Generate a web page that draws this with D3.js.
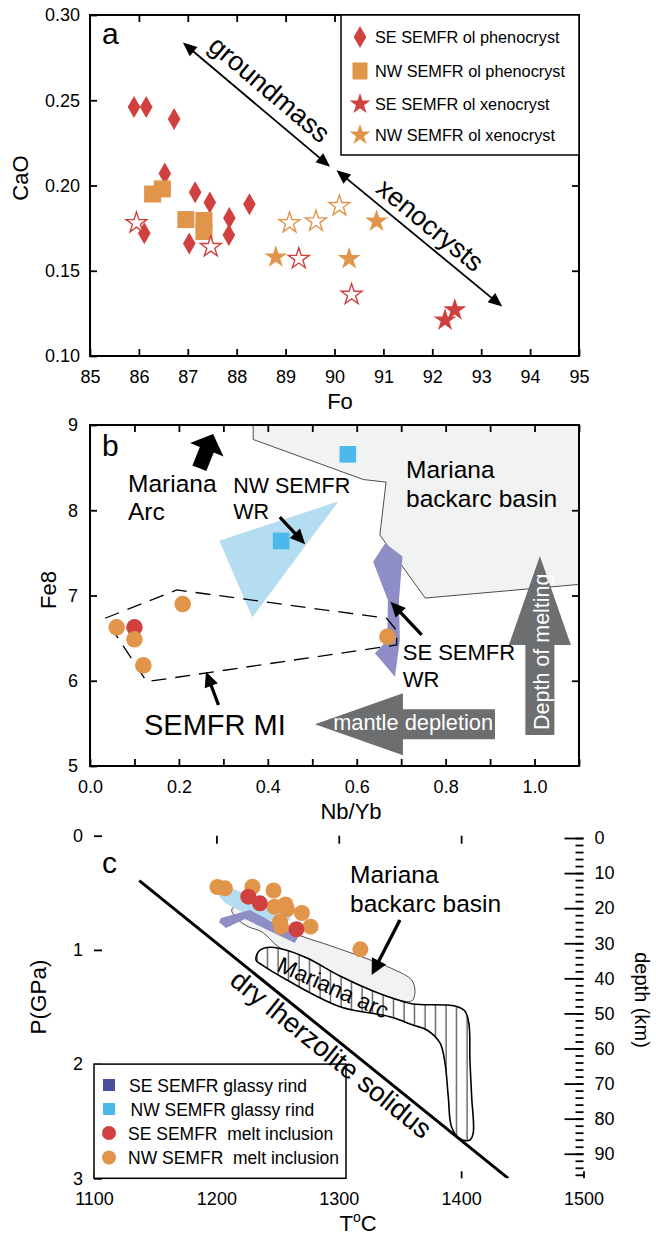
<!DOCTYPE html>
<html>
<head>
<meta charset="utf-8">
<script src="https://cdn.jsdelivr.net/npm/d3@7"></script>
<style>
  body { margin: 0; background: #fff; }
  svg { display: block; font-family: Helvetica, Arial, "Liberation Sans", sans-serif; }
</style>
</head>
<body>
<div id="chart"></div>
<script>
// ---------------- panel a : olivine CaO vs Fo ----------------
const foTicks = d3.range(85, 96);
const caoTicks = [0.10, 0.15, 0.20, 0.25, 0.30];

const sePhenoFo  = [85.9, 86.15, 86.72, 86.53, 87.15, 87.45, 88.26, 87.85, 87.84, 86.11, 87.03];
const sePhenoCaO = [0.246, 0.246, 0.239, 0.207, 0.196, 0.190, 0.189, 0.181, 0.171, 0.172, 0.166];
const nwPhenoFo  = [86.28, 86.48, 86.96, 87.33, 87.33];
const nwPhenoCaO = [0.195, 0.198, 0.180, 0.1795, 0.173];
const seXenoFo   = [92.26, 92.46];
const seXenoCaO  = [0.121, 0.127];
const nwXenoFo   = [88.8, 90.86, 90.3];
const nwXenoCaO  = [0.158, 0.179, 0.157];
// open stars (no legend entry)
const seOpenFo   = [85.95, 87.47, 89.27, 90.35];
const seOpenCaO  = [0.178, 0.164, 0.157, 0.136];
const nwOpenFo   = [89.08, 89.62, 90.1];
const nwOpenCaO  = [0.178, 0.179, 0.188];

// ---------------- panel b : Fe8 vs Nb/Yb ----------------
const nbybTicks = d3.range(0, 12).map(i => i / 10);
const fe8Ticks = [5, 6, 7, 8, 9];

const nwWrNbYb = [0.43, 0.58];
const nwWrFe8  = [7.64, 8.656];
const seMiNbYb = [0.10];
const seMiFe8  = [6.627];
const nwMiNbYb = [0.06, 0.10, 0.12, 0.2085, 0.669];
const nwMiFe8  = [6.627, 6.486, 6.18, 6.90, 6.517];

const backarcNbYb = [0.367, 0.367, 0.615, 0.666, 0.652, 0.754, 1.10, 1.10];
const backarcFe8  = [9.0, 8.83, 8.36, 8.33, 7.71, 6.97, 7.13, 9.0];
const nwFieldNbYb = [0.291, 0.365, 0.559];
const nwFieldFe8  = [7.643, 6.744, 8.105];
const seFieldNbYb = [0.664, 0.703, 0.695, 0.697, 0.686, 0.641, 0.669, 0.670, 0.637];
const seFieldFe8  = [7.612, 7.457, 6.947, 6.478, 6.047, 6.322, 6.478, 6.947, 7.396];
const miFieldNbYb = [0.034, 0.195, 0.6675, 0.69, 0.69, 0.637, 0.1275];
const miFieldFe8  = [6.733, 7.065, 6.733, 6.587, 6.42, 6.38, 5.989];

// ---------------- panel c : P-T ----------------
const tTicks = [1100, 1200, 1300, 1400, 1500];
const pTicks = [0, 1, 2, 3];
const depthTicks = d3.range(0, 100, 10);

const solidusT = [1137, 1438.5];
const solidusP = [0.394, 3.0];
const arcT = [1232.4, 1234.9, 1241.4, 1252.0, 1274.0, 1301.0, 1327.9, 1345.9, 1360.6, 1394.9, 1403.1, 1406.4, 1407.2, 1408.6,
              1409.9, 1407.2, 1399.0, 1392.2, 1389.5, 1386.8, 1382.7, 1372.0, 1360.6, 1341.8, 1301.0, 1257.7, 1237.3];
const arcP = [1.088, 1.010, 0.979, 0.988, 1.071, 1.229, 1.360, 1.430, 1.474, 1.491, 1.535, 1.649, 1.964, 2.285,
              2.603, 2.665, 2.656, 2.551, 2.285, 1.990, 1.815, 1.701, 1.658, 1.585, 1.497, 1.264, 1.132];
const bbT = [1212.5, 1216.6, 1223.4, 1239.7, 1264.2, 1291.4, 1318.7, 1345.9, 1359.6, 1362.3, 1359.6,
             1345.9, 1327.9, 1301.0, 1274.0, 1252.0, 1237.3, 1226.1, 1217.9];
const bbP = [0.651, 0.607, 0.592, 0.694, 0.855, 0.957, 1.060, 1.176, 1.264, 1.366, 1.447,
             1.430, 1.360, 1.229, 1.071, 0.983, 0.843, 0.797, 0.738];
const nwRindT = [1199.5, 1222.0, 1247.0, 1261.0, 1257.0, 1237.0, 1221.0, 1207.0, 1198.5];
const nwRindP = [0.425, 0.495, 0.640, 0.720, 0.775, 0.718, 0.665, 0.590, 0.480];
const seRindT = [1202.1, 1207.8, 1223.4, 1264.2, 1267.1, 1227.5, 1203.8];
const seRindP = [0.756, 0.808, 0.730, 0.940, 0.878, 0.651, 0.721];
const nwMiT = [1200.9, 1207.0, 1229.5, 1246.7, 1247.5, 1256.5, 1257.7, 1269.9, 1252.0, 1252.8, 1276.9, 1317.7];
const nwMiP = [0.449, 0.461, 0.447, 0.480, 0.622, 0.602, 0.644, 0.677, 0.753, 0.797, 0.797, 0.995];
const seMiT = [1226.1, 1235.6, 1265.4];
const seMiP = [0.534, 0.592, 0.819];

// colours
const RED = '#d0403f', ORANGE = '#e0954a', BLUE = '#4db8ea', LIGHTBLUE = '#b5ddf1',
      PURPLE = '#8e8dc6', DARKPURPLE = '#4b4e9d', GREY = '#6d6e70', BASIN = '#f1f2f2';

const zip = (xs, ys) => xs.map((x, i) => [x, ys[i]]);

const svg = d3.select('#chart').append('svg').attr('width', 656).attr('height', 1239);
const defs = svg.append('defs');

// hatch for Mariana arc field
const hatch = defs.append('pattern').attr('id', 'hatch')
  .attr('patternUnits', 'userSpaceOnUse').attr('width', 10.5).attr('height', 10);
hatch.append('rect').attr('width', 10.5).attr('height', 10).attr('fill', '#fff');
hatch.append('line').attr('x1', 5).attr('x2', 5).attr('y1', 0).attr('y2', 10)
  .attr('stroke', '#000').attr('stroke-width', 0.9);

// ---- helpers ----
function axis(g, ax, transform) {
  const a = g.append('g').attr('transform', transform).call(ax)
    .attr('font-family', null).attr('font-size', 18);
  a.select('.domain').remove();
  a.selectAll('line').attr('stroke', '#000').attr('stroke-width', 1.8);
  a.selectAll('text').attr('fill', '#000');
  return a;
}
function frame(g, x, y) {
  const [x0, x1] = x.range(), [y1, y0] = y.range();
  g.append('rect').attr('x', x0).attr('y', y0).attr('width', x1 - x0).attr('height', y1 - y0)
    .attr('fill', 'none').attr('stroke', '#000').attr('stroke-width', 2);
}
function lineArrow(g, p0, p1, o) {
  const { sw = 2, hl = 14, hw = 6, both = false } = o || {};
  const dx = p1[0] - p0[0], dy = p1[1] - p0[1], L = Math.hypot(dx, dy), ux = dx / L, uy = dy / L;
  const head = (tx, ty, ux, uy) => {
    const bx = tx - ux * hl, by = ty - uy * hl;
    return `M${tx},${ty}L${bx - uy * hw},${by + ux * hw}L${bx + uy * hw},${by - ux * hw}Z`;
  };
  g.append('line')
    .attr('x1', both ? p0[0] + ux * hl * 0.7 : p0[0]).attr('y1', both ? p0[1] + uy * hl * 0.7 : p0[1])
    .attr('x2', p1[0] - ux * hl * 0.7).attr('y2', p1[1] - uy * hl * 0.7)
    .attr('stroke', '#000').attr('stroke-width', sw);
  g.append('path').attr('d', head(p1[0], p1[1], ux, uy)).attr('fill', '#000');
  if (both) g.append('path').attr('d', head(p0[0], p0[1], -ux, -uy)).attr('fill', '#000');
}
function blockArrow(p0, p1, sw, hw, hl) {
  const dx = p1[0] - p0[0], dy = p1[1] - p0[1], L = Math.hypot(dx, dy), ux = dx / L, uy = dy / L;
  const nx = -uy, ny = ux, bx = p1[0] - ux * hl, by = p1[1] - uy * hl;
  const pts = [
    [p0[0] + nx * sw / 2, p0[1] + ny * sw / 2], [bx + nx * sw / 2, by + ny * sw / 2],
    [bx + nx * hw / 2, by + ny * hw / 2], p1,
    [bx - nx * hw / 2, by - ny * hw / 2], [bx - nx * sw / 2, by - ny * sw / 2],
    [p0[0] - nx * sw / 2, p0[1] - ny * sw / 2]];
  return 'M' + pts.map(p => p.join(',')).join('L') + 'Z';
}
const diamond = 'M0,-11L6.3,0L0,11L-6.3,0Z';
const star = r => d3.symbol(d3.symbolStar, r * r / 0.8908130915292852)();

function multiText(g, x, y, lines, size, lh) {
  const t = g.append('text').attr('x', x).attr('y', y).attr('font-size', size);
  lines.forEach((s, i) => t.append('tspan').attr('x', x).attr('dy', i ? lh : 0).text(s));
  return t;
}

// =============== panel a ===============
const xA = d3.scaleLinear().domain([85, 95]).range([90, 579]);
const yA = d3.scaleLinear().domain([0.10, 0.30]).range([356, 15]);
const gA = svg.append('g');

axis(gA, d3.axisBottom(xA).tickValues(foTicks).tickSize(-7).tickPadding(14).tickFormat(d3.format('d')), 'translate(0,356)');
axis(gA, d3.axisTop(xA).tickValues(foTicks.slice(1, -1)).tickSize(-7).tickFormat(''), 'translate(0,15)');
axis(gA, d3.axisLeft(yA).tickValues(caoTicks).tickSize(-7).tickPadding(10).tickFormat(d3.format('.2f')), 'translate(90,0)');
axis(gA, d3.axisRight(yA).tickValues([0.15, 0.20, 0.25]).tickSize(-7).tickFormat(''), 'translate(579,0)');
frame(gA, xA, yA);

// markers
gA.selectAll('.sePheno').data(zip(sePhenoFo, sePhenoCaO)).join('path')
  .attr('d', diamond).attr('fill', RED)
  .attr('transform', d => `translate(${xA(d[0])},${yA(d[1])})`);
gA.selectAll('.nwPheno').data(zip(nwPhenoFo, nwPhenoCaO)).join('rect')
  .attr('x', d => xA(d[0]) - 8.5).attr('y', d => yA(d[1]) - 8.5)
  .attr('width', 17).attr('height', 17).attr('fill', ORANGE);
gA.selectAll('.seOpen').data(zip(seOpenFo, seOpenCaO)).join('path')
  .attr('d', star(11)).attr('fill', '#fff').attr('stroke', RED).attr('stroke-width', 1.4)
  .attr('transform', d => `translate(${xA(d[0])},${yA(d[1])})`);
gA.selectAll('.nwOpen').data(zip(nwOpenFo, nwOpenCaO)).join('path')
  .attr('d', star(11)).attr('fill', '#fff').attr('stroke', ORANGE).attr('stroke-width', 1.4)
  .attr('transform', d => `translate(${xA(d[0])},${yA(d[1])})`);
gA.selectAll('.nwXeno').data(zip(nwXenoFo, nwXenoCaO)).join('path')
  .attr('d', star(12)).attr('fill', ORANGE)
  .attr('transform', d => `translate(${xA(d[0])},${yA(d[1])})`);
gA.selectAll('.seXeno').data(zip(seXenoFo, seXenoCaO)).join('path')
  .attr('d', star(12)).attr('fill', RED)
  .attr('transform', d => `translate(${xA(d[0])},${yA(d[1])})`);

// double arrows with labels
const aArrows = [
  { from: [86.9, 0.2838], to: [89.91, 0.211], label: 'groundmass', off: -11 },
  { from: [90.04, 0.209], to: [93.43, 0.129], label: 'xenocrysts', off: -8 }
];
aArrows.forEach(a => {
  const p0 = [xA(a.from[0]), yA(a.from[1])], p1 = [xA(a.to[0]), yA(a.to[1])];
  lineArrow(gA, p0, p1, { sw: 1.8, hl: 14, hw: 6, both: true });
  const ang = Math.atan2(p1[1] - p0[1], p1[0] - p0[0]) * 180 / Math.PI;
  gA.append('text')
    .attr('transform', `translate(${(p0[0] + p1[0]) / 2},${(p0[1] + p1[1]) / 2}) rotate(${ang})`)
    .attr('y', a.off).attr('text-anchor', 'middle').attr('font-size', 27).text(a.label);
});
gA.append('text').attr('x', 102).attr('y', 44).attr('font-size', 30).text('a');

// axis titles
gA.append('text').attr('transform', 'translate(28,178) rotate(-90)')
  .attr('text-anchor', 'middle').attr('font-size', 22).text('CaO');
gA.append('text').attr('x', 340).attr('y', 409).attr('text-anchor', 'middle').attr('font-size', 22).text('Fo');

// legend a
const legA = gA.append('g');
legA.append('rect').attr('x', 341).attr('y', 15).attr('width', 238).attr('height', 140)
  .attr('fill', '#fff').attr('stroke', '#000').attr('stroke-width', 1.5);
const legAItems = [
  { label: 'SE SEMFR ol phenocryst', sym: diamond, color: RED },
  { label: 'NW SEMFR ol phenocryst', sym: 'M-7.5,-8.5h15v17h-15Z', color: ORANGE },
  { label: 'SE SEMFR ol xenocryst', sym: star(11), color: RED },
  { label: 'NW SEMFR ol xenocryst', sym: star(11), color: ORANGE }
];
const legARows = [37, 71, 104, 135];
legAItems.forEach((d, i) => {
  legA.append('path').attr('d', d.sym).attr('fill', d.color)
    .attr('transform', `translate(360,${legARows[i]})`);
  legA.append('text').attr('x', 375).attr('y', legARows[i] + 6).attr('font-size', 16.3).text(d.label);
});

// =============== panel b ===============
const xB = d3.scaleLinear().domain([0, 1.1]).range([90, 579]);
const yB = d3.scaleLinear().domain([5, 9]).range([766, 425]);
const gB = svg.append('g');
defs.append('clipPath').attr('id', 'clipB').append('rect')
  .attr('x', 90).attr('y', 425).attr('width', 489).attr('height', 341);
const lineB = d3.line().x(d => xB(d[0])).y(d => yB(d[1]));
const plotB = gB.append('g').attr('clip-path', 'url(#clipB)');

plotB.append('path').attr('d', lineB(zip(backarcNbYb, backarcFe8)) + 'Z')
  .attr('fill', BASIN).attr('stroke', '#231f20').attr('stroke-width', 0.8);
plotB.append('path').attr('d', lineB(zip(nwFieldNbYb, nwFieldFe8)) + 'Z').attr('fill', LIGHTBLUE);
plotB.append('path').attr('d', lineB(zip(seFieldNbYb, seFieldFe8)) + 'Z').attr('fill', PURPLE);
plotB.append('path').attr('d', lineB(zip(miFieldNbYb, miFieldFe8)) + 'Z')
  .attr('fill', 'none').attr('stroke', '#000').attr('stroke-width', 1.3).attr('stroke-dasharray', '15,9');

plotB.selectAll('.nwWr').data(zip(nwWrNbYb, nwWrFe8)).join('rect')
  .attr('x', d => xB(d[0]) - 8.3).attr('y', d => yB(d[1]) - 8.3)
  .attr('width', 16.6).attr('height', 16.6).attr('fill', BLUE);
plotB.selectAll('.seMi').data(zip(seMiNbYb, seMiFe8)).join('circle')
  .attr('cx', d => xB(d[0])).attr('cy', d => yB(d[1])).attr('r', 8.3).attr('fill', RED);
plotB.selectAll('.nwMi').data(zip(nwMiNbYb, nwMiFe8)).join('circle')
  .attr('cx', d => xB(d[0])).attr('cy', d => yB(d[1])).attr('r', 8.3).attr('fill', ORANGE);

// grey block arrows
const P = (sx, sy, d) => [sx(d[0]), sy(d[1])];
plotB.append('path').attr('d', blockArrow(P(xB, yB, [0.911, 5.49]), P(xB, yB, [0.506, 5.49]), 30, 62, 88)).attr('fill', GREY);
plotB.append('path').attr('d', blockArrow(P(xB, yB, [1.012, 5.364]), P(xB, yB, [1.012, 7.463]), 29, 62, 89)).attr('fill', GREY);
plotB.append('path').attr('d', blockArrow(P(xB, yB, [0.246, 8.492]), P(xB, yB, [0.277, 8.894]), 15, 36, 17)).attr('fill', '#000');

gB.append('text').attr('x', xB(0.547)).attr('y', yB(5.423)).attr('font-size', 21.8).attr('fill', '#fff').text('mantle depletion');
gB.append('text').attr('transform', `translate(${xB(1.0326)},${yB(5.422)}) rotate(-90)`)
  .attr('font-size', 21.5).attr('fill', '#fff').text('Depth of melting');

const bArrows = [
  [[0.427, 7.92], [0.484, 7.60]],
  [[0.746, 6.537], [0.676, 6.927]],
  [[0.289, 5.716], [0.261, 6.107]]
];
bArrows.forEach(a => lineArrow(gB, P(xB, yB, a[0]), P(xB, yB, a[1]), { sw: 3.3, hl: 15, hw: 7 }));

axis(gB, d3.axisBottom(xB).tickValues(nbybTicks).tickSize(-7).tickPadding(14)
  .tickFormat((d, i) => i % 2 ? '' : d3.format('.1f')(d)), 'translate(0,766)');
axis(gB, d3.axisTop(xB).tickValues(nbybTicks.slice(1)).tickSize(-7).tickFormat(''), 'translate(0,425)');
axis(gB, d3.axisLeft(yB).tickValues(fe8Ticks).tickSize(-7).tickPadding(12).tickFormat(d3.format('d')), 'translate(90,0)');
axis(gB, d3.axisRight(yB).tickValues([6, 7, 8]).tickSize(-7).tickFormat(''), 'translate(579,0)');
frame(gB, xB, yB);

gB.append('text').attr('x', 102).attr('y', 456).attr('font-size', 30).text('b');
multiText(gB, xB(0.0855), yB(8.218), ['Mariana', 'Arc'], 24.5, 28.3);
multiText(gB, xB(0.322), yB(8.202), ['NW SEMFR', 'WR'], 21.5, 26);
multiText(gB, xB(0.711), yB(8.375), ['Mariana', 'backarc basin'], 24.5, 28.4);
multiText(gB, xB(0.7035), yB(6.243), ['SE SEMFR', 'WR'], 22, 26.7);
gB.append('text').attr('x', xB(0.1215)).attr('y', yB(5.364)).attr('font-size', 29).text('SEMFR MI');

gB.append('text').attr('transform', 'translate(56,590) rotate(-90)')
  .attr('text-anchor', 'middle').attr('font-size', 22).text('Fe8');
gB.append('text').attr('x', 351).attr('y', 819).attr('text-anchor', 'middle').attr('font-size', 22).text('Nb/Yb');

// =============== panel c ===============
const xC = d3.scaleLinear().domain([1100, 1500]).range([94, 583.5]);
const yC = d3.scaleLinear().domain([0, 3]).range([835.7, 1178.3]);
const depth = d3.scaleLinear().domain([0, 97]).range([838, 1178.3]);
const gC = svg.append('g');
defs.append('clipPath').attr('id', 'clipC').append('rect')
  .attr('x', 94).attr('y', 835.7).attr('width', 489.5).attr('height', 342.6);
const plotC = gC.append('g').attr('clip-path', 'url(#clipC)');
const smooth = d3.line().x(d => xC(d[0])).y(d => yC(d[1])).curve(d3.curveCatmullRomClosed.alpha(0.5));
const straight = d3.line().x(d => xC(d[0])).y(d => yC(d[1]));

plotC.append('path').attr('d', smooth(zip(bbT, bbP)))
  .attr('fill', BASIN).attr('stroke', '#231f20').attr('stroke-width', 0.8);
plotC.append('path').attr('d', smooth(zip(arcT, arcP)))
  .attr('fill', 'url(#hatch)').attr('stroke', '#000').attr('stroke-width', 1.6);
plotC.append('path').attr('d', straight(zip(nwRindT, nwRindP)) + 'Z').attr('fill', LIGHTBLUE);
plotC.append('path').attr('d', straight(zip(seRindT, seRindP)) + 'Z').attr('fill', PURPLE);
plotC.selectAll('.nwMiC').data(zip(nwMiT, nwMiP)).join('circle')
  .attr('cx', d => xC(d[0])).attr('cy', d => yC(d[1])).attr('r', 8).attr('fill', ORANGE);
plotC.selectAll('.seMiC').data(zip(seMiT, seMiP)).join('circle')
  .attr('cx', d => xC(d[0])).attr('cy', d => yC(d[1])).attr('r', 8).attr('fill', RED);
plotC.append('path').attr('d', straight(zip(solidusT, solidusP)))
  .attr('stroke', '#000').attr('stroke-width', 3).attr('fill', 'none');

lineArrow(gC, P(xC, yC, [1350, 0.738]), P(xC, yC, [1326.9, 1.22]), { sw: 3.3, hl: 16, hw: 8 });

// left / bottom / top ticks
axis(gC, d3.axisBottom(xC).tickValues(tTicks).tickSize(-7).tickPadding(14).tickFormat(d3.format('d')), 'translate(0,1178.3)');
axis(gC, d3.axisTop(xC).tickValues([1200, 1300, 1400]).tickSize(-8).tickFormat(''), 'translate(0,835.7)');
axis(gC, d3.axisLeft(yC).tickValues(pTicks).tickSize(-8).tickPadding(11).tickFormat(d3.format('d')), 'translate(94,0)');
// depth ruler
axis(gC, d3.axisRight(depth).tickValues(d3.range(0, 98, 2)).tickSize(-8).tickFormat(''), 'translate(583.5,0)');
axis(gC, d3.axisRight(depth).tickValues(depthTicks).tickSize(-19).tickPadding(11).tickFormat(d3.format('d')), 'translate(583.5,0)');
frame(gC, xC, yC);

// text in panel c
gC.append('text').attr('x', 102).attr('y', 873).attr('font-size', 30).text('c');
multiText(gC, xC(1309.2), yC(0.417), ['Mariana', 'backarc basin'], 24.5, 28.4);
gC.append('text').attr('transform', `translate(${xC(1295.5)},${yC(1.329)}) rotate(24)`)
  .attr('text-anchor', 'middle').attr('dy', '0.35em').attr('font-size', 22.5).text('Mariana arc');

gC.append('text').attr('transform', 'translate(46,997) rotate(-90)')
  .attr('text-anchor', 'middle').attr('font-size', 22.5).text('P(GPa)');
gC.append('text').attr('transform', 'translate(635,1000) rotate(90)')
  .attr('text-anchor', 'middle').attr('font-size', 20).text('depth (km)');
const tLab = gC.append('text').attr('x', 358).attr('y', 1231).attr('text-anchor', 'middle').attr('font-size', 22);
tLab.append('tspan').text('T');
tLab.append('tspan').attr('font-size', 14).attr('dy', -9).text('o');
tLab.append('tspan').attr('dy', 9).text('C');

// legend c
const legC = gC.append('g');
legC.append('rect').attr('x', 94).attr('y', yC(2)).attr('width', 252).attr('height', yC(3) - yC(2))
  .attr('fill', '#fff').attr('stroke', '#000').attr('stroke-width', 1.5);
const legCItems = [
  { label: 'SE SEMFR glassy rind', shape: 'sq', color: DARKPURPLE, dx: 0 },
  { label: 'NW SEMFR glassy rind', shape: 'sq', color: BLUE, dx: 1.5 },
  { label: 'SE SEMFR  melt inclusion', shape: 'c', color: RED, dx: -1 },
  { label: 'NW SEMFR  melt inclusion', shape: 'c', color: ORANGE, dx: -1 }
];
const legCRows = [1085, 1109, 1133, 1157.5];
legCItems.forEach((d, i) => {
  const y = legCRows[i];
  if (d.shape === 'sq') legC.append('rect').attr('x', 103).attr('y', y - 6).attr('width', 12).attr('height', 12).attr('fill', d.color);
  else legC.append('circle').attr('cx', 109).attr('cy', y).attr('r', 7).attr('fill', d.color);
  legC.append('text').attr('x', 129 + d.dx).attr('y', y + 6.5).attr('font-size', 17.5)
    .style('white-space', 'pre').text(d.label);
});

// solidus label sits just below the middle of the solidus line (drawn last so the legend never hides it)
const s0 = P(xC, yC, [solidusT[0], solidusP[0]]), s1 = P(xC, yC, [solidusT[1], solidusP[1]]);
const solAng = Math.atan2(s1[1] - s0[1], s1[0] - s0[0]) * 180 / Math.PI;
gC.append('text')
  .attr('transform', `translate(${s0[0] + 0.545 * (s1[0] - s0[0])},${s0[1] + 0.545 * (s1[1] - s0[1])}) rotate(${solAng})`)
  .attr('text-anchor', 'middle').attr('y', 24).attr('font-size', 27.5).text('dry lherzolite solidus');
</script>
</body>
</html>
